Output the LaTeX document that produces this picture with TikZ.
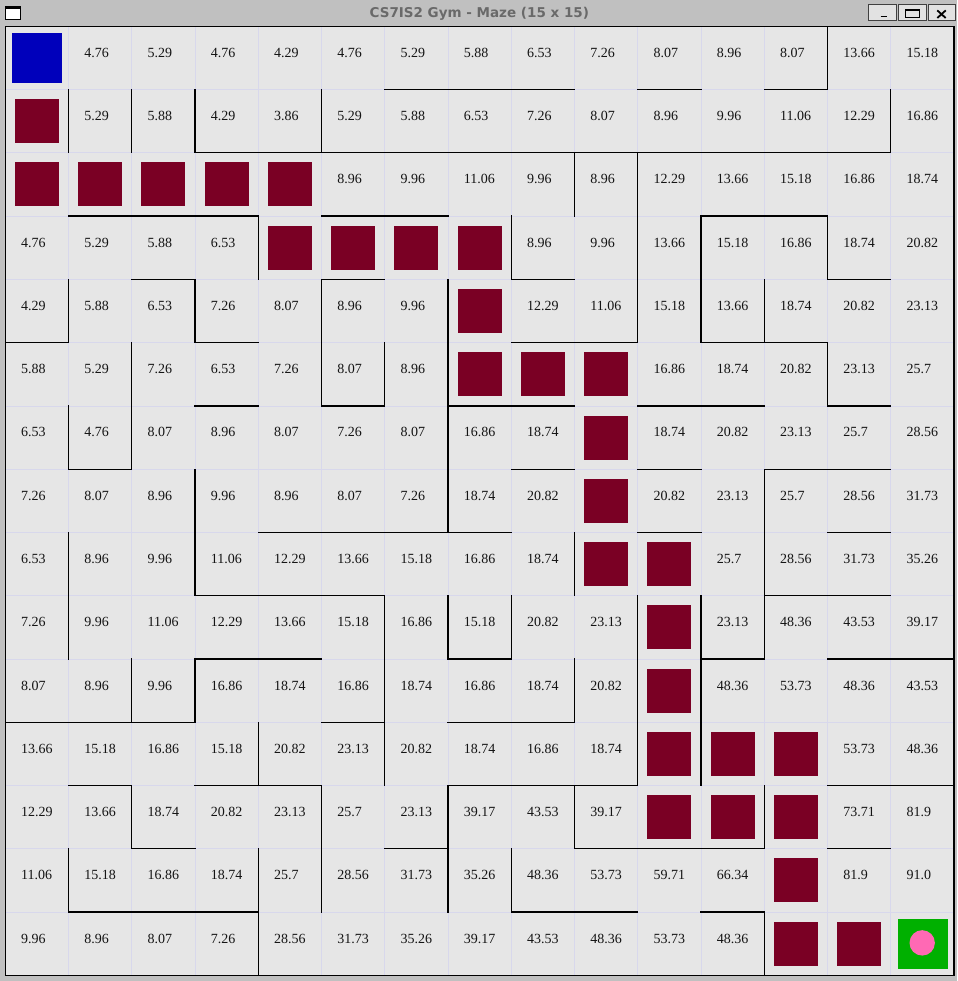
\documentclass[tikz,border=0pt]{standalone}
\usepackage{fontspec}
\setmainfont{Liberation Serif}
\newfontfamily\titlefont{DejaVu Sans}
\definecolor{wingray}{RGB}{192,192,192}
\definecolor{cellbg}{RGB}{230,230,230}
\definecolor{gridc}{RGB}{216,216,236}
\definecolor{obstc}{RGB}{122,0,36}
\definecolor{agentc}{RGB}{0,0,187}
\definecolor{goalc}{RGB}{0,176,0}
\definecolor{pinkc}{RGB}{255,105,180}
\definecolor{txtc}{RGB}{20,20,20}
\definecolor{titlec}{RGB}{105,105,105}
\definecolor{btnc}{RGB}{226,226,226}
\newcommand\mzH[2]{\foreach \c in {#2}{\draw[wall] ({5.3+63.25*\c},{26.3+63.27*#1}) -- ++(63.25,0);}}
\newcommand\mzV[2]{\foreach \c in {#2}{\draw[wall] ({5.3+63.25*\c},{26.3+63.27*#1}) -- ++(0,63.27);}}
\def\sX{X}\def\sA{A}\def\sG{G}
\begin{document}
\begin{tikzpicture}[x=1pt,y=-1pt,
  wall/.style={draw=black,line width=1.3pt,line cap=rect},
  gridln/.style={draw=gridc,line width=0.8pt},
  obst/.style={fill=obstc},
  btn/.style={draw=black!75,fill=btnc,line width=0.9pt,minimum height=16.7pt,inner sep=0pt},
  lbl/.style={anchor=base west,inner sep=0pt,font=\fontsize{14}{14}\selectfont,text=txtc}]
\useasboundingbox (0,0) rectangle (957,981);
\fill[wingray] (0,0) rectangle (957,981);
% title bar
\node[anchor=base,inner sep=0pt,text=titlec,font=\titlefont\bfseries\fontsize{13.5}{13.5}\selectfont] (title) at (479.3,17.3) {CS7IS2 Gym - Maze (15 x 15)};
\draw[black,line width=0.8pt,fill=white] (5.8,6.5) rectangle (20.5,19);
\fill[black] (5.4,6) rectangle (20.9,9.2);
\node[btn,minimum width=28.4pt] (bmin) at (882.5,12.35) {};
\node[btn,minimum width=28pt] (bmax) at (912.7,12.35) {};
\node[btn,minimum width=27pt] (bcls) at (941.8,12.35) {};
\draw[line width=1.7pt] (880.5,16.6) -- (886.5,16.6);
\draw[line width=1pt] (905.9,9.8) rectangle (919.2,17.1);
\draw[line width=1.6pt] (905.9,10.4) -- (919.2,10.4);
\draw[line width=1.8pt] (937.3,10.4) -- (945.7,18) (937.3,18) -- (945.7,10.4);
% grid
\fill[cellbg] (5.3,26.3) rectangle (954,975.4);
\foreach \i in {1,...,14}{
  \draw[gridln] ({5.3+63.25*\i},26.3) -- ({5.3+63.25*\i},975.4);
  \draw[gridln] (5.3,{26.3+63.27*\i}) -- (954,{26.3+63.27*\i});
}
% cells
\foreach \row [count=\r from 0] in {
 {A,4.76,5.29,4.76,4.29,4.76,5.29,5.88,6.53,7.26,8.07,8.96,8.07,13.66,15.18},
 {X,5.29,5.88,4.29,3.86,5.29,5.88,6.53,7.26,8.07,8.96,9.96,11.06,12.29,16.86},
 {X,X,X,X,X,8.96,9.96,11.06,9.96,8.96,12.29,13.66,15.18,16.86,18.74},
 {4.76,5.29,5.88,6.53,X,X,X,X,8.96,9.96,13.66,15.18,16.86,18.74,20.82},
 {4.29,5.88,6.53,7.26,8.07,8.96,9.96,X,12.29,11.06,15.18,13.66,18.74,20.82,23.13},
 {5.88,5.29,7.26,6.53,7.26,8.07,8.96,X,X,X,16.86,18.74,20.82,23.13,25.7},
 {6.53,4.76,8.07,8.96,8.07,7.26,8.07,16.86,18.74,X,18.74,20.82,23.13,25.7,28.56},
 {7.26,8.07,8.96,9.96,8.96,8.07,7.26,18.74,20.82,X,20.82,23.13,25.7,28.56,31.73},
 {6.53,8.96,9.96,11.06,12.29,13.66,15.18,16.86,18.74,X,X,25.7,28.56,31.73,35.26},
 {7.26,9.96,11.06,12.29,13.66,15.18,16.86,15.18,20.82,23.13,X,23.13,48.36,43.53,39.17},
 {8.07,8.96,9.96,16.86,18.74,16.86,18.74,16.86,18.74,20.82,X,48.36,53.73,48.36,43.53},
 {13.66,15.18,16.86,15.18,20.82,23.13,20.82,18.74,16.86,18.74,X,X,X,53.73,48.36},
 {12.29,13.66,18.74,20.82,23.13,25.7,23.13,39.17,43.53,39.17,X,X,X,73.71,81.9},
 {11.06,15.18,16.86,18.74,25.7,28.56,31.73,35.26,48.36,53.73,59.71,66.34,X,81.9,91.0},
 {9.96,8.96,8.07,7.26,28.56,31.73,35.26,39.17,43.53,48.36,53.73,48.36,X,X,G}}{
 \foreach \v [count=\c from 0] in \row {
   \pgfmathsetmacro\cl{5.3+63.25*\c}
   \pgfmathsetmacro\ct{26.3+63.27*\r}
   \edef\tv{\v}
   \ifx\tv\sX
     \fill[obst] (\cl+9.6,\ct+9.6) rectangle ++(44,44);
   \else\ifx\tv\sA
     \fill[agentc] (\cl+6.6,\ct+6.6) rectangle ++(50,50);
   \else\ifx\tv\sG
     \fill[goalc] (\cl+7,\ct+6.9) rectangle ++(50,50);
     \fill[pinkc] (\cl+31.4,\ct+30.8) circle (12.7);
   \else
     \node[lbl] (v\r-\c) at (\cl+15.6,\ct+31) {\v};
   \fi\fi\fi
 }
}
% walls: horizontal (boundary above row, columns)
\mzH{1}{6,7,8,10,12}
\mzH{2}{3,4,5,6,7,8,9,10,11,12,13}
\mzH{3}{1,2,3,5,6,11,12}
\mzH{4}{2,5,8,13}
\mzH{5}{0,3,8,9,11,12}
\mzH{6}{3,5,7,8,10,11,13}
\mzH{7}{1,8,10,12,13}
\mzH{8}{4,5,6,7,10,13}
\mzH{9}{3,4,5,12,13}
\mzH{10}{3,4,7,11,13,14}
\mzH{11}{0,1,2,5,7,8}
\mzH{12}{1,3,4,7,8,9,13,14}
\mzH{13}{2,6,9,10,11,13}
\mzH{14}{1,2,3,8,9,11}
% walls: vertical (row, boundary left of column)
\mzV{0}{13}
\mzV{1}{1,2,3,5,14}
\mzV{2}{9,10}
\mzV{3}{4,8,10,11,13}
\mzV{4}{1,3,5,7,10,11,12}
\mzV{5}{2,5,6,7,13}
\mzV{6}{1,2,7}
\mzV{7}{3,7,12}
\mzV{8}{1,3,9,12}
\mzV{9}{1,6,7,8,10,11,12}
\mzV{10}{2,3,6,9,10,11}
\mzV{11}{4,6,10,11}
\mzV{12}{2,5,7,9,12}
\mzV{13}{1,4,5,7,8}
\mzV{14}{4,12}
% outer border
\draw[black,line width=1.5pt] (5.3,26.3) rectangle (954,975.4);
\end{tikzpicture}
\end{document}
